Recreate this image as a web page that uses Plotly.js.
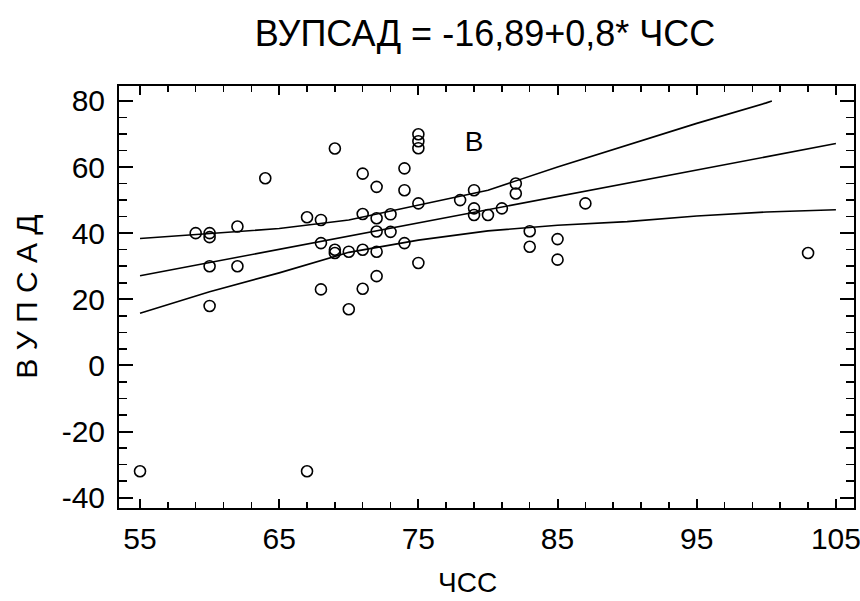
<!DOCTYPE html>
<html>
<head>
<meta charset="utf-8">
<script src="https://cdn.plot.ly/plotly-3.0.1.min.js"></script>
<style>
  html, body { margin: 0; padding: 0; background: #ffffff; }
  #chart { width: 860px; height: 601px; }
</style>
</head>
<body>
<div id="chart"></div>
<script>
// Observations: ЧСС (x) and ВУПСАД (y)
const hrValues = [55, 67, 59, 60, 60, 60, 60, 62, 62, 64, 67, 68, 68, 68, 69, 69, 69, 70, 70,
  71, 71, 71, 71, 72, 72, 72, 72, 72, 73, 73, 74, 74, 74, 75, 75, 75, 75, 75,
  78, 79, 79, 79, 80, 81, 82, 82, 83, 83, 85, 85, 87, 103];
const vupsadValues = [-32, -32, 40, 40, 38.8, 30, 18, 42, 30, 56.6, 44.8, 44, 37, 23, 65.6, 35, 34, 34.4, 17,
  58, 45.8, 35, 23.2, 54, 44.5, 40.5, 34.4, 27, 45.7, 40.4, 59.6, 53, 37, 69.9, 67.8, 65.7, 49, 31,
  50, 53, 47.5, 45.5, 45.5, 47.5, 55, 52, 40.6, 35.9, 38.2, 32, 49, 34];

// Overlapping observations drawn as letter "B"
const bLabelX = [79];
const bLabelY = [67];
const bLabelText = ["B"];

// Regression line ВУПСАД = -16,89 + 0,8 * ЧСС (endpoints)
const fitX = [55, 105];
const fitY = [27.1, 67.1];

// Confidence limits
const upperX = [55, 60, 65, 70, 75, 80, 85, 90, 95, 100, 100.4];
const upperY = [38.4, 39.9, 41.4, 44.0, 48.5, 53.0, 60.0, 66.6, 73.2, 79.4, 80];
const lowerX = [55, 60, 65, 70, 75, 80, 85, 90, 95, 100, 105];
const lowerY = [15.8, 22.3, 28.0, 34.2, 37.9, 40.7, 42.4, 43.5, 45.2, 46.4, 47.1];

// Tick labels
const xTickVals = [55, 65, 75, 85, 95, 105];
const xTickText = ["55", "65", "75", "85", "95", "105"];
const yTickVals = [-40, -20, 0, 20, 40, 60, 80];
const yTickText = ["-40", "-20", "0", "20", "40", "60", "80"];

const titleText = "ВУПСАД = -16,89+0,8* ЧСС";
const xTitle = "ЧСС";
const yTitle = "В У П С А Д";

const FONT = "Liberation Sans, Arial, sans-serif";
const lineStyle = { color: "#000000", width: 1.6 };

const traces = [
  { x: upperX, y: upperY, mode: "lines", line: lineStyle, hoverinfo: "skip", showlegend: false },
  { x: fitX, y: fitY, mode: "lines", line: lineStyle, hoverinfo: "skip", showlegend: false },
  { x: lowerX, y: lowerY, mode: "lines", line: lineStyle, hoverinfo: "skip", showlegend: false },
  {
    x: hrValues, y: vupsadValues, mode: "markers", showlegend: false,
    marker: { symbol: "circle-open", size: 11, color: "#000000", line: { color: "#000000", width: 1.6 } }
  },
  {
    x: bLabelX, y: bLabelY, text: bLabelText, mode: "text", showlegend: false,
    textposition: "middle center", textfont: { family: FONT, size: 28, color: "#000000" }
  }
];

const layout = {
  width: 860, height: 601,
  margin: { l: 119, r: 6, t: 86, b: 93, pad: 0 },
  paper_bgcolor: "#ffffff", plot_bgcolor: "#ffffff",
  font: { family: FONT, color: "#000000" },
  showlegend: false,
  title: {
    text: titleText, font: { family: FONT, size: 36, color: "#000000" },
    xref: "container", yref: "container", x: 0.564, y: 0.945, xanchor: "center", yanchor: "middle"
  },
  xaxis: {
    range: [53.49, 106.3], tickmode: "array", tickvals: xTickVals, ticktext: xTickText,
    ticks: "inside", ticklen: 9, tickwidth: 2, tickcolor: "#000000",
    minor: { tickmode: "linear", tick0: 55, dtick: 2, ticks: "inside", ticklen: 6, tickwidth: 1.5, tickcolor: "#000000", showgrid: false },
    showline: true, linewidth: 2, linecolor: "#000000", mirror: "ticks",
    showgrid: false, zeroline: false,
    tickfont: { family: FONT, size: 30, color: "#000000" },
    ticklabelstandoff: 3, ticklabeloverflow: "allow"
  },
  yaxis: {
    range: [-43.1, 84.5], tickmode: "array", tickvals: yTickVals, ticktext: yTickText,
    ticks: "inside", ticklen: 14, tickwidth: 2, tickcolor: "#000000",
    minor: { tickmode: "linear", tick0: -40, dtick: 5, ticks: "inside", ticklen: 8, tickwidth: 1.5, tickcolor: "#000000", showgrid: false },
    showline: true, linewidth: 2, linecolor: "#000000", mirror: "ticks",
    showgrid: false, zeroline: false,
    tickfont: { family: FONT, size: 30, color: "#000000" },
    ticklabelstandoff: 6, ticklabeloverflow: "allow"
  },
  annotations: [
    {
      text: xTitle, xref: "paper", yref: "paper", x: 0.4746, y: -0.218,
      xanchor: "center", yanchor: "bottom", showarrow: false,
      font: { family: FONT, size: 28, color: "#000000" }
    },
    {
      text: yTitle, xref: "paper", yref: "paper", x: -0.127, y: 0.5,
      xanchor: "center", yanchor: "middle", textangle: -90, showarrow: false,
      font: { family: FONT, size: 30, color: "#000000" }
    }
  ]
};

Plotly.newPlot("chart", traces, layout, { staticPlot: true, displayModeBar: false });
</script>
</body>
</html>
